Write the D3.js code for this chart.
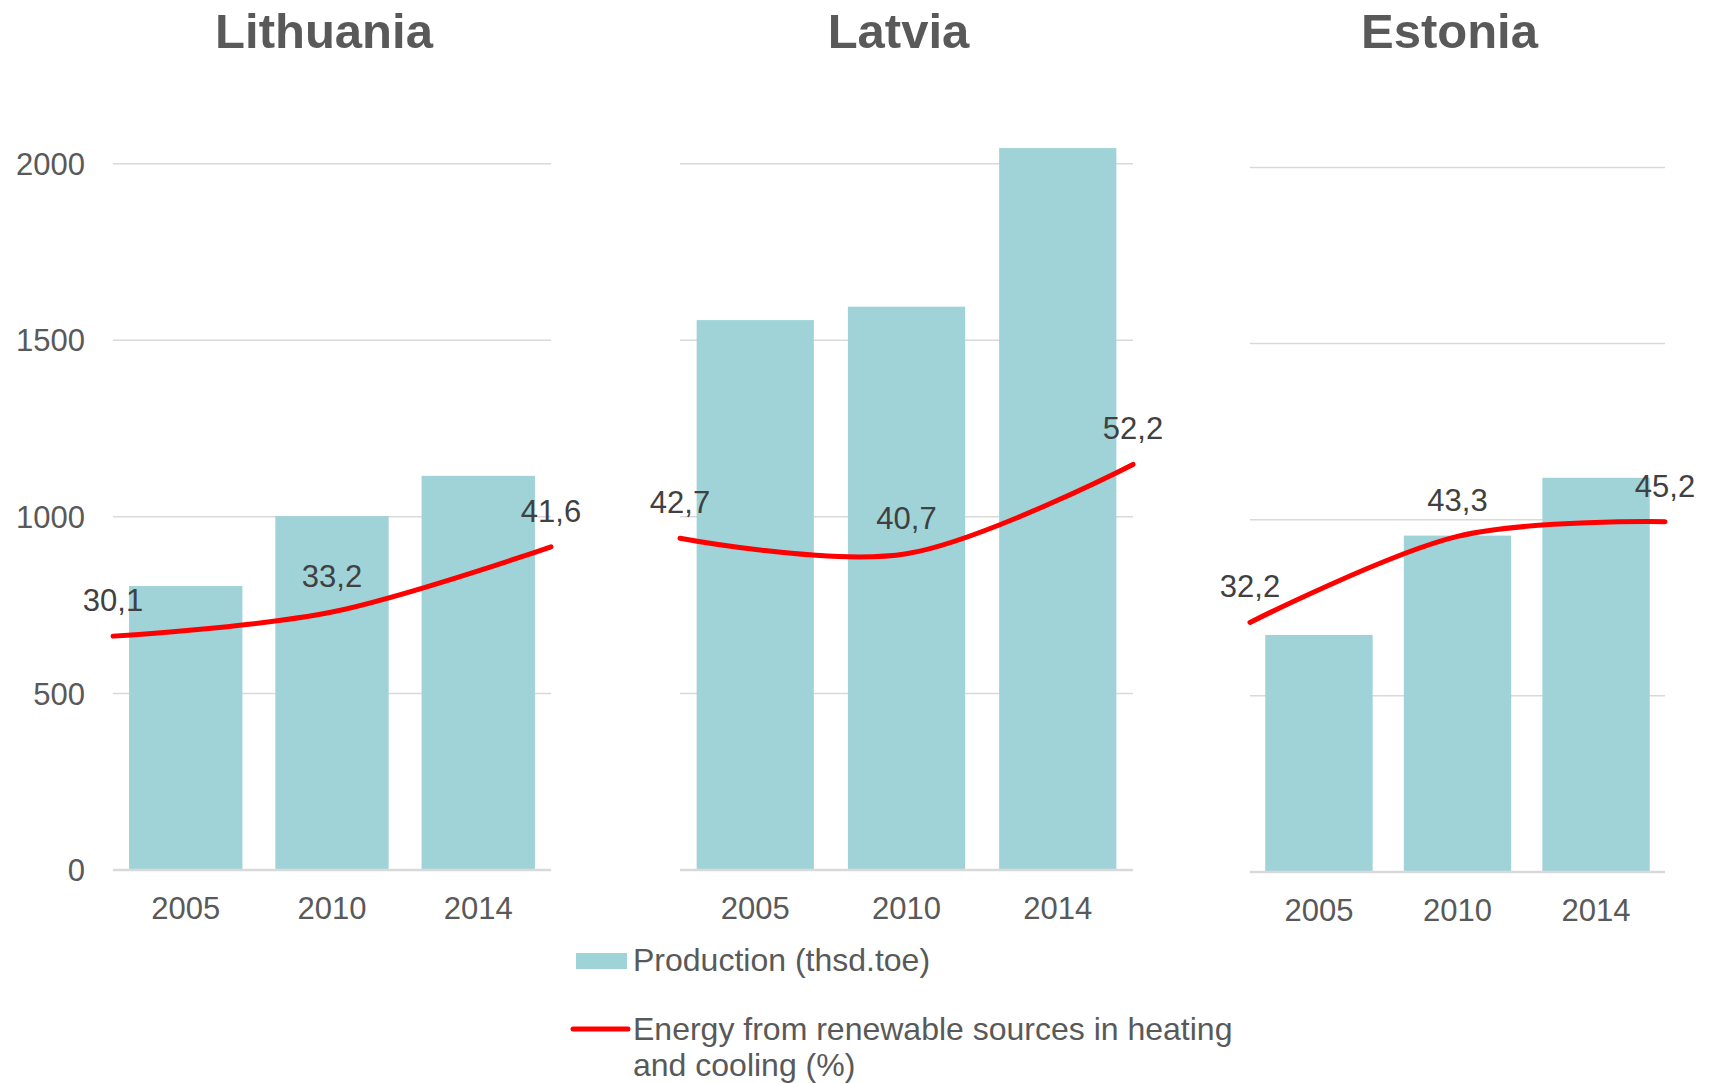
<!DOCTYPE html>
<html>
<head>
<meta charset="utf-8">
<script src="https://cdn.jsdelivr.net/npm/d3@7"></script>
<style>
  body { margin: 0; background: #fff; }
  svg { display: block; font-family: "Liberation Sans", Arial, sans-serif; }
</style>
</head>
<body>
<div id="chart"></div>
<script>
// Data
const countries = ["Lithuania", "Latvia", "Estonia"];
const years = ["2005", "2010", "2014"];
const production = [
    [804, 1002, 1116],   // Lithuania
    [1557, 1595, 2044],  // Latvia
    [673, 955, 1119]     // Estonia
];
const renewableShare = [
    [30.1, 33.2, 41.6],
    [42.7, 40.7, 52.2],
    [32.2, 43.3, 45.2]
];
const yTicks = [0, 500, 1000, 1500, 2000];
const legendLabels = ["Production (thsd.toe)", "Energy from renewable sources in heating", "and cooling (%)"];

// Panel layout (plot area of each small chart)
const panels = [
    {x0: 113, x1: 551, base: 870, top: 93, showY: true},
    {x0: 680, x1: 1133, base: 870, top: 93, showY: false},
    {x0: 1250, x1: 1665, base: 872, top: 97, showY: false}
];

const barColor = "#9fd3d7";
const lineColor = "#ff0000";
const gridColor = "#d9d9d9";
const textColor = "#595959";

const locale = d3.formatLocale({decimal: ",", thousands: " ", grouping: [3], currency: ["", ""]});
const fmt = locale.format(".1f");

const svg = d3.select("#chart").append("svg")
    .attr("width", 1709)
    .attr("height", 1083);

countries.forEach((name, i) => {
    const p = panels[i];
    const g = svg.append("g");

    const x = d3.scaleBand()
        .domain(years)
        .range([p.x0, p.x1])
        .paddingInner(0.225)
        .paddingOuter(0.11);

    const xLine = d3.scalePoint()
        .domain(years)
        .range([p.x0, p.x1])
        .padding(0);

    const y = d3.scaleLinear().domain([0, 2200]).range([p.base, p.top]);
    const y2 = d3.scaleLinear().domain([0, 100]).range([p.base, p.top]);

    // Title
    g.append("text")
        .attr("x", (p.x0 + p.x1) / 2 - 8)
        .attr("y", 48)
        .attr("text-anchor", "middle")
        .style("font-size", "49px")
        .style("font-weight", "bold")
        .style("fill", textColor)
        .text(name);

    // Gridlines
    g.selectAll(".grid")
        .data(yTicks.filter(d => d > 0))
        .enter()
        .append("line")
        .attr("x1", p.x0)
        .attr("x2", p.x1)
        .attr("y1", d => y(d))
        .attr("y2", d => y(d))
        .attr("stroke", gridColor)
        .attr("stroke-width", 1.5);

    // Y tick labels (first panel only)
    if (p.showY) {
        g.selectAll(".ytick")
            .data(yTicks)
            .enter()
            .append("text")
            .attr("x", p.x0 - 28)
            .attr("y", d => y(d))
            .attr("dy", "0.36em")
            .attr("text-anchor", "end")
            .style("font-size", "31px")
            .style("fill", textColor)
            .text(d => d);
    }

    // Bars
    g.selectAll(".bar")
        .data(production[i])
        .enter()
        .append("rect")
        .attr("x", (d, j) => x(years[j]))
        .attr("y", d => y(d))
        .attr("width", x.bandwidth())
        .attr("height", d => y(0) - y(d))
        .attr("fill", barColor);

    // Baseline
    g.append("line")
        .attr("x1", p.x0)
        .attr("x2", p.x1)
        .attr("y1", y(0))
        .attr("y2", y(0))
        .attr("stroke", gridColor)
        .attr("stroke-width", 2.5);

    // X tick labels
    g.selectAll(".xtick")
        .data(years)
        .enter()
        .append("text")
        .attr("x", d => x(d) + x.bandwidth() / 2)
        .attr("y", y(0) + 48.5)
        .attr("text-anchor", "middle")
        .style("font-size", "31px")
        .style("fill", textColor)
        .text(d => d);

    // Smoothed line
    const line = d3.line()
        .x((d, j) => xLine(years[j]))
        .y(d => y2(d))
        .curve(d3.curveCardinal.tension(0));

    g.append("path")
        .datum(renewableShare[i])
        .attr("d", line)
        .attr("fill", "none")
        .attr("stroke", lineColor)
        .attr("stroke-width", 5)
        .attr("stroke-linecap", "round");

    // Data labels
    g.selectAll(".label")
        .data(renewableShare[i])
        .enter()
        .append("text")
        .attr("x", (d, j) => xLine(years[j]))
        .attr("y", d => y2(d) - 25)
        .attr("text-anchor", "middle")
        .style("font-size", "31px")
        .style("fill", "#404040")
        .text(d => fmt(d));
});

// Legend
const legend = svg.append("g");

legend.append("rect")
    .attr("x", 576)
    .attr("y", 953)
    .attr("width", 51)
    .attr("height", 16)
    .attr("fill", barColor);

legend.append("line")
    .attr("x1", 573)
    .attr("x2", 628)
    .attr("y1", 1029)
    .attr("y2", 1029)
    .attr("stroke", lineColor)
    .attr("stroke-width", 5)
    .attr("stroke-linecap", "round");

legend.selectAll(".legtext")
    .data(legendLabels)
    .enter()
    .append("text")
    .attr("x", 633)
    .attr("y", (d, i) => [971, 1040, 1076][i])
    .style("font-size", "32px")
    .style("fill", textColor)
    .text(d => d);
</script>
</body>
</html>
